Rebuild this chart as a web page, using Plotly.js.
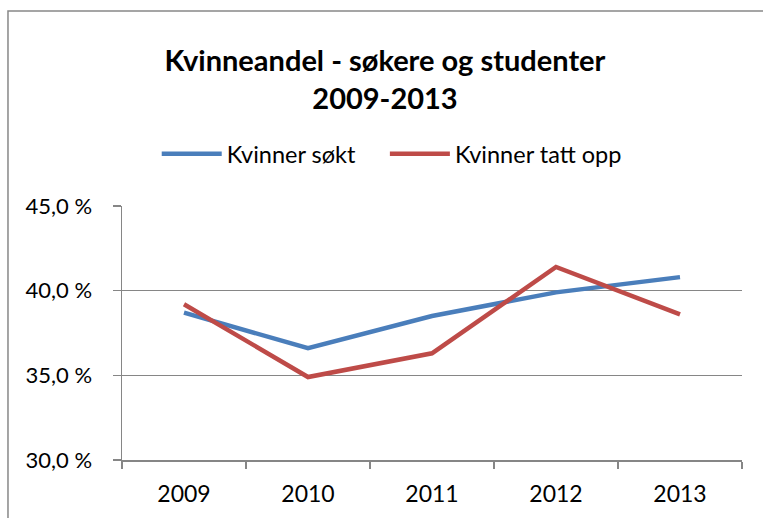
<!DOCTYPE html>
<html>
<head>
<meta charset="utf-8">
<script src="https://cdn.plot.ly/plotly-3.0.1.min.js"></script>
<style>
html,body{margin:0;padding:0;background:#fff;}
#chart{width:763px;height:518px;}
</style>
</head>
<body>
<div id="chart"></div>
<script>
const years = ['2009', '2010', '2011', '2012', '2013'];
const kvinnerSokt = [38.7, 36.6, 38.5, 39.9, 40.8];
const kvinnerTattOpp = [39.2, 34.9, 36.3, 41.4, 38.6];
const seriesNames = ['Kvinner søkt', 'Kvinner tatt opp'];
const yTicks = [30, 35, 40, 45];
const yTickLabels = ['30,0 %', '35,0 %', '40,0 %', '45,0 %'];

const FONT = 'Lato, "Open Sans", sans-serif';

const traces = [
  {
    x: years, y: kvinnerSokt, name: seriesNames[0], type: 'scatter', mode: 'lines',
    line: {color: '#4A7EBB', width: 4.5}, legend: 'legend'
  },
  {
    x: years, y: kvinnerTattOpp, name: seriesNames[1], type: 'scatter', mode: 'lines',
    line: {color: '#BE4B48', width: 4.5}, legend: 'legend2'
  }
];

const legendBase = {
  orientation: 'h', xanchor: 'left', y: 1.205, yanchor: 'middle',
  font: {family: FONT, size: 23.5, color: '#000'},
  itemwidth: 60, bgcolor: 'rgba(0,0,0,0)'
};

const layout = {
  width: 763, height: 518,
  paper_bgcolor: '#fff', plot_bgcolor: '#fff',
  font: {family: FONT, size: 23, color: '#000'},
  margin: {l: 122, r: 21, t: 206, b: 58, pad: 0},
  title: {
    text: '<b>Kvinneandel - søkere og studenter<br>2009-2013</b>',
    font: {family: FONT, size: 29, color: '#000'},
    x: 0.5046, xanchor: 'center', xref: 'container',
    y: 0.863, yanchor: 'top', yref: 'container'
  },
  showlegend: true,
  legend: Object.assign({}, legendBase, {x: 0.056}),
  legend2: Object.assign({}, legendBase, {x: 0.424}),
  xaxis: {
    type: 'category', range: [-0.5, 4.5], autorange: false,
    showline: true, linecolor: '#868686', linewidth: 1.5,
    ticks: 'outside', tickson: 'boundaries', ticklen: 7, tickcolor: '#868686', tickwidth: 1.5,
    showgrid: false, zeroline: false, fixedrange: true,
    ticklabelstandoff: 13,
    tickfont: {family: FONT, size: 23, color: '#000'}
  },
  yaxis: {
    range: [30, 45], autorange: false, tickvals: yTicks, ticktext: yTickLabels,
    showline: true, linecolor: '#868686', linewidth: 1.5,
    ticks: 'outside', ticklen: 8, tickcolor: '#868686', tickwidth: 1.5,
    showgrid: true, gridcolor: '#868686', gridwidth: 1.5, zeroline: false,
    ticklabelstandoff: 16, fixedrange: true,
    tickfont: {family: FONT, size: 22, color: '#000'}
  },
  shapes: [
    {type: 'rect', xref: 'paper', yref: 'paper', x0: -0.1839, x1: 1.3, y0: -0.5, y1: 1.7677,
     line: {color: '#888888', width: 1.5}, fillcolor: 'rgba(0,0,0,0)', layer: 'below'}
  ],
  annotations: [
    {xref: 'paper', yref: 'paper', x: -0.195, xanchor: 'left', y: 1.825, yanchor: 'bottom',
     text: 'Kvinneandelen blant søkere er i samme periode kun 1,4', showarrow: false,
     font: {family: FONT, size: 26, color: '#000'}}
  ]
};

Plotly.newPlot('chart', traces, layout, {displayModeBar: false, staticPlot: true});
</script>
</body>
</html>
